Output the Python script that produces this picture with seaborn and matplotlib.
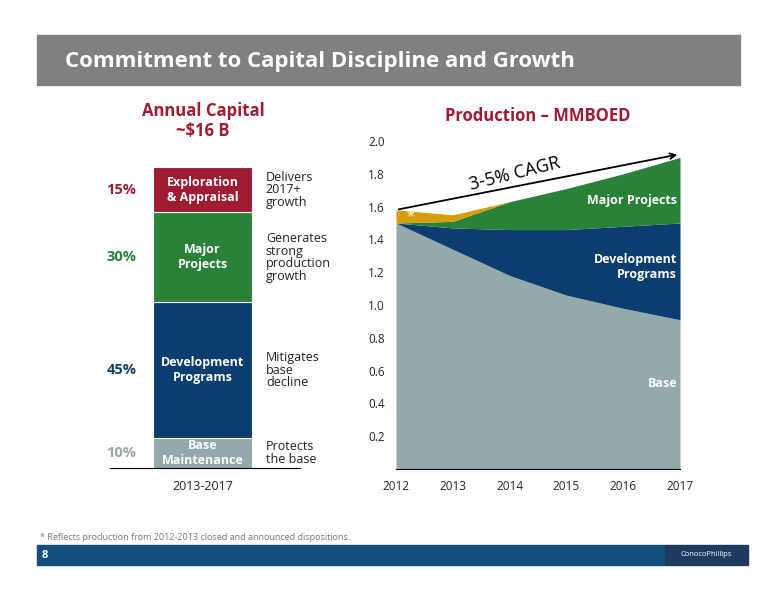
import matplotlib
matplotlib.use("Agg")
import matplotlib.pyplot as plt
import seaborn as sns
import numpy as np
from matplotlib.patches import Rectangle

sns.set_style("white")
plt.rcParams['font.family'] = ['Open Sans', 'DejaVu Sans']

# Left: capital allocation (bottom to top)
cap_labels = ['Base\nMaintenance', 'Development\nPrograms', 'Major\nProjects', 'Exploration\n& Appraisal']
cap_pct = [10, 45, 30, 15]
cap_notes = ['Protects\nthe base', 'Mitigates\nbase\ndecline', 'Generates\nstrong\nproduction\ngrowth', 'Delivers\n2017+\ngrowth']
cap_colors = ['#94a9ab', '#0b3d6e', '#2a8138', '#9e1b32']

# Right: production
years = [2012, 2013, 2014, 2015, 2016, 2017]
base = [1.50, 1.34, 1.18, 1.06, 0.98, 0.91]
dev = [0.00, 0.13, 0.28, 0.40, 0.50, 0.59]
major = [0.00, 0.04, 0.17, 0.25, 0.32, 0.40]
dispo = [0.08, 0.04, 0.00, 0.00, 0.00, 0.00]

W, H = 776, 600
fig = plt.figure(figsize=(W / 100, H / 100), dpi=100)

def fx(px):
    return px / W

def fy(py):
    return 1 - py / H

# banner
fig.patches.append(Rectangle((fx(37), fy(85)), fx(703), 50 / H, transform=fig.transFigure,
                             color='#808080', zorder=0))
fig.text(fx(65), fy(61), 'Commitment to Capital Discipline and Growth', color='white',
         fontsize=16, fontweight='bold', va='center')

# left bar chart
axl = fig.add_axes([fx(110), fy(468), fx(190), 301 / H])
bottom = 0
for lab, p, note, c in zip(cap_labels, cap_pct, cap_notes, cap_colors):
    axl.bar(0.487, p, width=0.52, bottom=bottom, color=c, edgecolor='white', linewidth=0.8)
    mid = bottom + p / 2
    axl.text(0.487, mid, lab, color='white', fontsize=9, fontweight='bold', ha='center', va='center')
    axl.text(0.14, mid, f'{p}%', color=c, fontsize=10.5,
             fontweight='bold', ha='right', va='center')
    axl.text(0.82, mid, note, color='#222222', fontsize=9, ha='left', va='center', linespacing=0.95)
    bottom += p
axl.set_xlim(0, 1)
axl.set_ylim(0, 100)
axl.set_xticks([])
axl.set_yticks([])
for s in ['top', 'right', 'left']:
    axl.spines[s].set_visible(False)
axl.spines['bottom'].set_color('black')
axl.text(0.487, -4, '2013-2017', ha='center', va='top', fontsize=9, transform=axl.transData)
axl.patch.set_alpha(0)
fig.text(fx(203), fy(121), 'Annual Capital\n~$16 B', color='#9e1b32', fontsize=12,
         fontweight='bold', ha='center', va='center', linespacing=1.1)

# right production chart
axr = fig.add_axes([fx(396), fy(469), fx(284), 328 / H])
axr.stackplot(years, base, dev, major, dispo,
              colors=['#94a9ab', '#0b3d6e', '#2a8138', '#d69e0c'], linewidth=0)
axr.set_xlim(2012, 2017)
axr.set_ylim(0, 2.0)
axr.set_yticks(np.round(np.arange(0.2, 2.01, 0.2), 1))
axr.set_yticklabels([f'{v:.1f}' for v in np.arange(0.2, 2.01, 0.2)])
axr.set_xticks(years)
axr.tick_params(axis='both', length=0, labelsize=8.5, pad=8)
for s in ['top', 'right', 'left']:
    axr.spines[s].set_visible(False)
axr.spines['bottom'].set_color('black')
axr.annotate('', xy=(2017, 1.92), xytext=(2012, 1.58),
             arrowprops=dict(arrowstyle='->', color='black', lw=1.3))
axr.text(2014.1, 1.80, '3-5% CAGR', fontsize=13, rotation=14, ha='center', va='center', color='black')
axr.text(2012.25, 1.535, '*', color='white', fontsize=10, ha='center', va='center')
axr.text(2016.95, 1.64, 'Major Projects', color='white', fontsize=9, fontweight='bold', ha='right', va='center')
axr.text(2016.95, 1.23, 'Development\nPrograms', color='white', fontsize=9, fontweight='bold',
         ha='right', va='center')
axr.text(2016.95, 0.52, 'Base', color='white', fontsize=9, fontweight='bold', ha='right', va='center')
fig.text(fx(538), fy(116), 'Production \u2013 MMBOED', color='#9e1b32', fontsize=12,
         fontweight='bold', ha='center', va='center')

# footer
fig.text(fx(40), fy(538), '* Reflects production from 2012-2013 closed and announced dispositions.',
         fontsize=6.5, color='#777777', va='center')
fig.patches.append(Rectangle((fx(37), fy(565)), fx(628), 20 / H, transform=fig.transFigure,
                             color='#134f7a', zorder=0))
fig.patches.append(Rectangle((fx(665), fy(565)), fx(83), 20 / H, transform=fig.transFigure,
                             color='#1d3a5f', zorder=0))
fig.text(fx(42), fy(555), '8', color='white', fontsize=8, fontweight='bold', va='center')
fig.text(fx(706), fy(555), 'ConocoPhillips', color='white', fontsize=5.5, ha='center', va='center')

fig.savefig('out.png', dpi=100)
